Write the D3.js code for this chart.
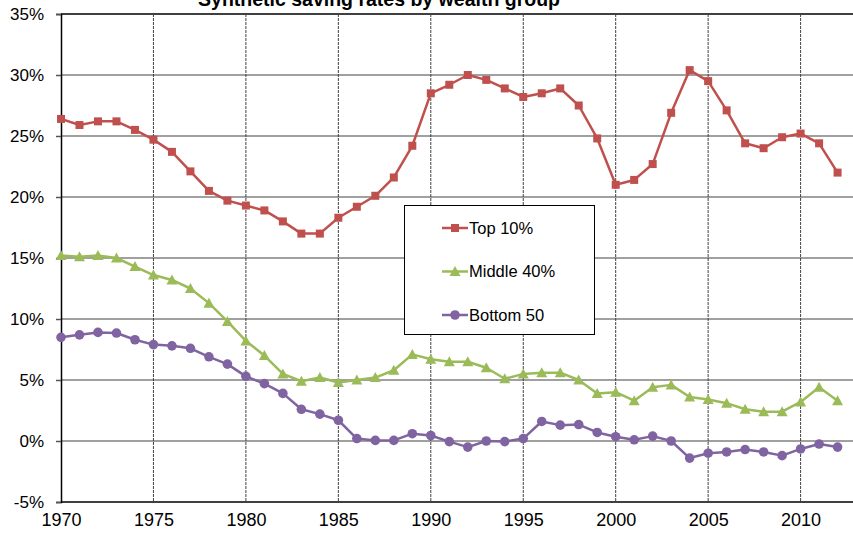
<!DOCTYPE html>
<html>
<head>
<meta charset="utf-8">
<script src="https://cdn.jsdelivr.net/npm/d3@7"></script>
<style>
  body { margin: 0; background: #fff; }
  svg { display: block; font-family: Arial, "Liberation Sans", sans-serif; }
</style>
</head>
<body>
<svg width="853" height="534"></svg>
<script>
// data
var years = d3.range(1970, 2013);
var top10 = [26.4, 25.9, 26.2, 26.2, 25.5, 24.7, 23.7, 22.1, 20.5, 19.7,
             19.3, 18.9, 18.0, 17.0, 17.0, 18.3, 19.2, 20.1, 21.6, 24.2,
             28.5, 29.2, 30.0, 29.6, 28.9, 28.2, 28.5, 28.9, 27.5, 24.8,
             21.0, 21.4, 22.7, 26.9, 30.4, 29.5, 27.1, 24.4, 24.0, 24.9,
             25.2, 24.4, 22.0];
var middle40 = [15.2, 15.1, 15.2, 15.0, 14.3, 13.6, 13.2, 12.5, 11.3, 9.8,
                8.2, 7.0, 5.5, 4.9, 5.2, 4.8, 5.0, 5.2, 5.8, 7.1,
                6.7, 6.5, 6.5, 6.0, 5.1, 5.5, 5.6, 5.6, 5.0, 3.9,
                4.0, 3.3, 4.4, 4.6, 3.6, 3.4, 3.1, 2.6, 2.4, 2.4,
                3.2, 4.4, 3.3];
var bottom50 = [8.5, 8.7, 8.9, 8.85, 8.3, 7.9, 7.8, 7.6, 6.9, 6.3,
                5.3, 4.7, 3.9, 2.6, 2.2, 1.7, 0.2, 0.05, 0.05, 0.6,
                0.45, -0.05, -0.5, 0.0, -0.05, 0.2, 1.6, 1.3, 1.35, 0.7,
                0.35, 0.1, 0.4, 0.0, -1.4, -1.0, -0.9, -0.7, -0.9, -1.2,
                -0.65, -0.25, -0.5];
var seriesNames = ["Top 10%", "Middle 40%", "Bottom 50"];
var yTicks = [-5, 0, 5, 10, 15, 20, 25, 30, 35];
var xTicks = [1970, 1975, 1980, 1985, 1990, 1995, 2000, 2005, 2010];

var series = [
  {name: seriesNames[0], values: top10, color: "#C0504D", shape: "square"},
  {name: seriesNames[1], values: middle40, color: "#9BBB59", shape: "triangle"},
  {name: seriesNames[2], values: bottom50, color: "#8064A2", shape: "circle"}
];

var svg = d3.select("svg");
var left = 61, topY = 14, bottom = 502;

var x = d3.scaleLinear().domain([1970, 2013]).range([left, left + 43 * 18.49]);
var y = d3.scaleLinear().domain([-5, 35]).range([bottom, topY]);
var right = 853;

// title (cut by top edge as in the picture)
svg.append("text")
    .attr("x", 379).attr("y", 6)
    .attr("text-anchor", "middle")
    .attr("font-weight", "bold")
    .attr("font-size", 19.5)
    .text("Synthetic saving rates by wealth group");

// horizontal grid
svg.append("g").selectAll("line")
  .data(yTicks.filter(d => d > -5))
  .enter().append("line")
    .attr("x1", left).attr("x2", right)
    .attr("y1", d => y(d)).attr("y2", d => y(d))
    .attr("stroke", d => d === 35 ? "#404040" : "#808080")
    .attr("stroke-width", d => d === 35 ? 2 : 1.5);

// vertical dashed grid
svg.append("g").selectAll("line")
  .data(xTicks.filter(d => d > 1970))
  .enter().append("line")
    .attr("x1", d => x(d)).attr("x2", d => x(d))
    .attr("y1", topY).attr("y2", bottom)
    .attr("stroke", "#404040")
    .attr("stroke-width", 1)
    .attr("stroke-dasharray", "3,1");

// y axis
var yAxis = svg.append("g")
    .attr("transform", "translate(" + left + ",0)")
    .call(d3.axisLeft(y).tickValues(yTicks).tickSize(5).tickPadding(12)
      .tickFormat(d => d + "%"));
yAxis.select(".domain").attr("stroke", "#000").attr("stroke-width", 1.5);
yAxis.selectAll(".tick line").attr("stroke", "#555").attr("stroke-width", 1.5);
yAxis.selectAll("text").attr("font-size", 17).attr("fill", "#000")
    .attr("font-family", "Arial, 'Liberation Sans', sans-serif");

// x axis
var xAxis = svg.append("g")
    .attr("transform", "translate(0," + bottom + ")")
    .call(d3.axisBottom(x).tickValues(xTicks).tickSize(0).tickPadding(11)
      .tickFormat(d3.format("d")));
xAxis.select(".domain").attr("stroke", "#000").attr("stroke-width", 1.5)
    .attr("d", "M" + left + ",0H" + right);
xAxis.selectAll("text").attr("font-size", 18).attr("fill", "#000")
    .attr("font-family", "Arial, 'Liberation Sans', sans-serif");

// lines and markers
var line = d3.line().x((d, i) => x(years[i])).y(d => y(d));

function marker(g, shape, color, cx, cy) {
  if (shape === "square") {
    g.append("rect").attr("x", cx - 4).attr("y", cy - 4)
      .attr("width", 8).attr("height", 8).attr("fill", color);
  } else if (shape === "triangle") {
    g.append("path")
      .attr("d", "M" + cx + "," + (cy - 5.5) + "L" + (cx + 5.5) + "," + (cy + 4.5) +
                 "L" + (cx - 5.5) + "," + (cy + 4.5) + "Z")
      .attr("fill", color);
  } else {
    g.append("circle").attr("cx", cx).attr("cy", cy).attr("r", 4.8).attr("fill", color);
  }
}

series.forEach(s => {
  var g = svg.append("g");
  g.append("path")
    .datum(s.values)
    .attr("fill", "none")
    .attr("stroke", s.color)
    .attr("stroke-width", 2.5)
    .attr("stroke-linejoin", "round")
    .attr("d", line);
  s.values.forEach((v, i) => marker(g, s.shape, s.color, x(years[i]), y(v)));
});

// legend
var lg = svg.append("g");
lg.append("rect")
    .attr("x", 404.5).attr("y", 205.5)
    .attr("width", 190).attr("height", 129)
    .attr("fill", "#fff").attr("stroke", "#000").attr("stroke-width", 1);
series.forEach((s, i) => {
  var cy = 228 + i * 43.5;
  lg.append("line")
    .attr("x1", 442).attr("x2", 468)
    .attr("y1", cy).attr("y2", cy)
    .attr("stroke", s.color).attr("stroke-width", 2.5);
  marker(lg, s.shape, s.color, 455, cy);
  lg.append("text")
    .attr("x", 469).attr("y", cy)
    .attr("dy", "0.35em")
    .attr("font-size", 16.5)
    .text(s.name);
});
</script>
</body>
</html>
